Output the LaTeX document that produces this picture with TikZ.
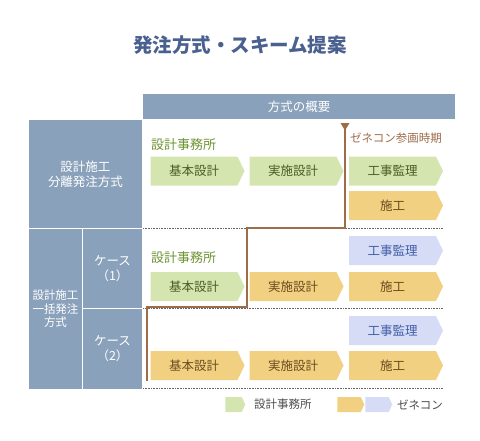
\documentclass[tikz,border=0pt]{standalone}
\usepackage{fontspec}
\setmainfont{Noto Sans CJK JP}
\usetikzlibrary{shapes.symbols,positioning}

\definecolor{panelblue}{HTML}{8AA1BB}
\definecolor{titleblue}{HTML}{4A6190}
\definecolor{officefill}{HTML}{D4E5AF}
\definecolor{officetext}{HTML}{4B5B22}
\definecolor{officelabel}{HTML}{6E9232}
\definecolor{buildfill}{HTML}{F1D081}
\definecolor{buildtext}{HTML}{6A4C1E}
\definecolor{superfill}{HTML}{D7DCF6}
\definecolor{supertext}{HTML}{3E5DA6}
\definecolor{timingbrown}{HTML}{9E6C49}

\begin{document}
\begin{tikzpicture}[x=1pt,y=-1pt,
		panel/.style={fill=panelblue,text=white,align=center,inner sep=0pt,font=\fontsize{12.5}{15}\selectfont},
		stage/.style={signal,signal to=east,signal pointer angle=128,minimum width=94pt,minimum height=29pt,inner sep=0pt,font=\fontsize{12.5}{14}\selectfont},
		office/.style={stage,fill=officefill,text=officetext},
		build/.style={stage,fill=buildfill,text=buildtext},
		superv/.style={stage,fill=superfill,text=supertext},
		keybox/.style={signal,signal to=east,signal pointer angle=128,minimum height=15pt,inner sep=0pt},
		who/.style={anchor=west,inner sep=0pt,text=officelabel,font=\fontsize{13}{15}\selectfont},
		sep/.style={densely dotted,draw=black!60,line width=0.6pt},
		timing/.style={draw=timingbrown,line width=2pt}]
	\useasboundingbox (0,0) rectangle (480,440);
	\node[text=titleblue,font=\fontsize{19.5}{22}\bfseries] (title) at (240,45) {発注方式・スキーム提案};
	\node[panel,minimum width=312pt,minimum height=25pt] (outline) at (299,106.5) {方式の概要};
	\node[panel,minimum width=113pt,minimum height=108pt] (bunri) at (85.5,174) {設計施工\\分離発注方式};
	\node[panel,minimum width=53pt,minimum height=160pt,font=\fontsize{11.5}{13.5}\selectfont] (ikkatsu) at (55.5,309) {設計施工\\一括発注\\方式};
	\node[panel,minimum width=59pt,minimum height=79pt] (caseA) at (112.5,268.5) {ケース\\（1）};
	\node[panel,minimum width=59pt,minimum height=80pt] (caseB) at (112.5,349) {ケース\\（2）};
	\foreach \y in {228,308,388}
		\draw[sep] (143,\y) -- (443,\y);
	% separate ordering
	\node[who] (jimushoA) at (151,145) {設計事務所};
	\node[office] (kihonA) at (194,171) {基本設計};
	\node[office] (jisshiA) at (293,171) {実施設計};
	\node[office] (kanriA) at (392.5,171) {工事監理};
	\node[build] (sekouA) at (392.5,205.5) {施工};
	% case 1
	\node[who] (jimushoB) at (151,258) {設計事務所};
	\node[superv] (kanriB) at (392.5,250.5) {工事監理};
	\node[office] (kihonB) at (194,286.5) {基本設計};
	\node[build] (jisshiB) at (293,286.5) {実施設計};
	\node[build] (sekouB) at (392.5,286.5) {施工};
	% case 2
	\node[superv] (kanriC) at (392.5,330.5) {工事監理};
	\node[build] (kihonC) at (194,365.5) {基本設計};
	\node[build] (jisshiC) at (293,365.5) {実施設計};
	\node[build] (sekouC) at (392.5,365.5) {施工};
	% entry of the contractor
	\coordinate (entry) at (345,123);
	\coordinate (entryend) at (147,381);
	\draw[timing] (entry) -- (345,228) -| (247,307) -| (entryend);
	\fill[timingbrown] (entry) ++(-4.5,0) -- ++(9,0) -- ++(-4.5,7.5) -- cycle;
	\node[anchor=west,inner sep=0pt,text=timingbrown,font=\fontsize{11.5}{14}\selectfont] (entrylabel) at (350,138) {ゼネコン参画時期};
	% key
	\node[keybox,fill=officefill,minimum width=20pt] (keyoffice) at (233.5,404.5) {};
	\node[anchor=west,inner sep=0pt,text=black!70,font=\fontsize{11.5}{14}\selectfont] (keyofficetext) at (254,404.5) {設計事務所};
	\node[keybox,fill=buildfill,minimum width=27pt] (keybuild) at (349,404.5) {};
	\node[keybox,fill=superfill,minimum width=27pt] (keysuperv) at (377,404.5) {};
	\node[anchor=west,inner sep=0pt,text=black!70,font=\fontsize{11.5}{14}\selectfont] (keygencon) at (397,404.5) {ゼネコン};
\end{tikzpicture}
\end{document}
